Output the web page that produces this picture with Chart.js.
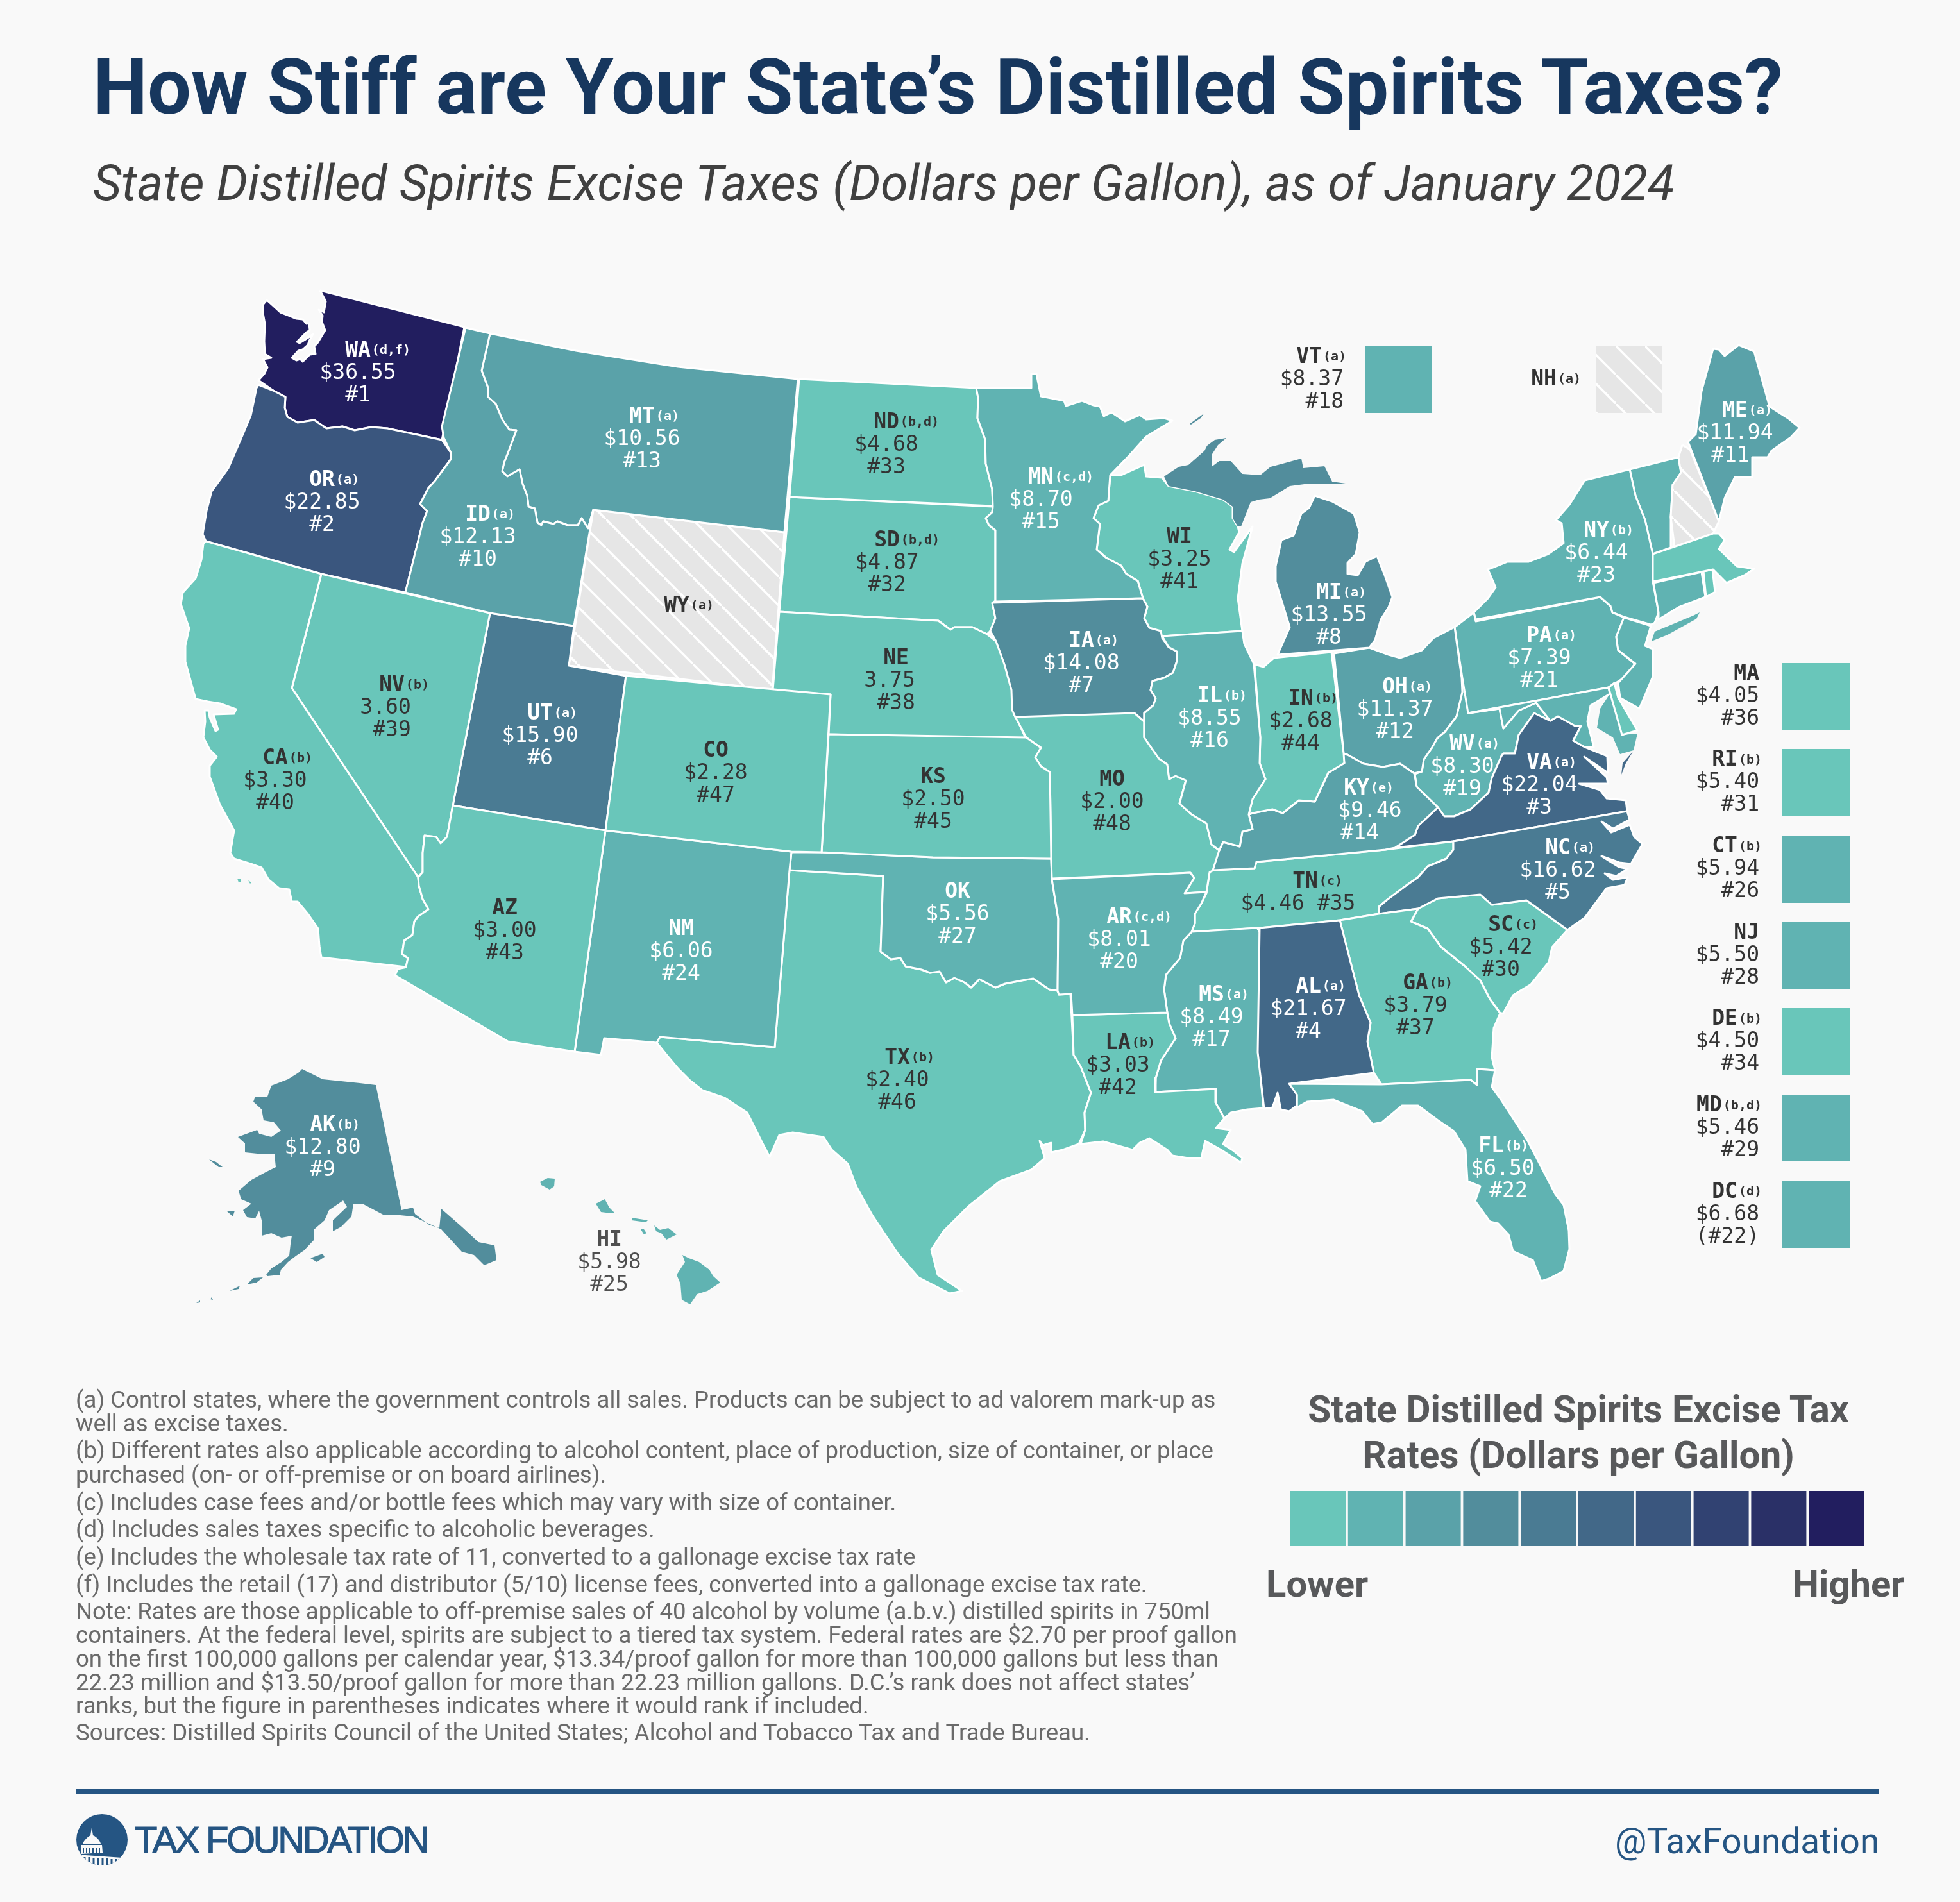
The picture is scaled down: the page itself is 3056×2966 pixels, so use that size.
<!DOCTYPE html>
<html>
<head>
<meta charset="utf-8">
<title>How Stiff are Your State's Distilled Spirits Taxes?</title>
<script src="https://cdn.jsdelivr.net/npm/chart.js@4/dist/chart.umd.min.js"></script>
<style>
    html, body { margin: 0; padding: 0; background: #f9f9f9; }
    #page { position: relative; width: 3056px; height: 2966px; overflow: hidden; background: #f9f9f9; }
    #mapChart { position: absolute; left: 0; top: 0; }
    .txt { position: absolute; white-space: nowrap; font-family: Roboto, sans-serif; }
</style>
</head>
<body>
<div id="page">
    <canvas id="mapChart" width="3056" height="2966"></canvas>
    <div id="texts"></div>
    <svg style="position:absolute;left:119px;top:2829px" width="80" height="80" viewBox="0 0 80 80">
        <defs><clipPath id="logoClip"><circle cx="40" cy="40" r="40"/></clipPath></defs>
        <g clip-path="url(#logoClip)">
            <rect width="80" height="80" fill="#255583"/>
            <path d="M24 21 L26 33 C33 36 37 42 38 46 L10 46 C12 41 17 36 22 33 Z" fill="#f9f9f9"/>
            <path d="M8 48 L40 48 L41 60 L8 62 Z" fill="#f9f9f9"/>
            <path d="M11 53 V61 M16 53 V61 M21 53 V61 M26 53 V61 M31 53 V61 M36 53 V60" stroke="#255583" stroke-width="2"/>
            <path d="M0 63 L72 68 L72 80 L0 80 Z" fill="#f9f9f9"/>
            <path d="M13 67 V80 M20 67 V80 M27 68 V80 M34 68 V80 M41 69 V80 M48 69 V80 M55 70 V80 M62 70 V80" stroke="#255583" stroke-width="3"/>
        </g>
    </svg>
</div>
<script>
// ============================================
// DATA
// ============================================
var stateCodes = ["AL","AK","AZ","AR","CA","CO","CT","DE","FL","GA","HI","ID","IL","IN","IA","KS","KY","LA","ME","MD","MA","MI","MN","MS","MO","MT","NE","NV","NH","NJ","NM","NY","NC","ND","OH","OK","OR","PA","RI","SC","SD","TN","TX","UT","VT","VA","WA","WV","WI","WY","DC"];
var stateRates = [21.67,12.80,3.00,8.01,3.30,2.28,5.94,4.50,6.50,3.79,5.98,12.13,8.55,2.68,14.08,2.50,9.46,3.03,11.94,5.46,4.05,13.55,8.70,8.49,2.00,10.56,3.75,3.60,null,5.50,6.06,6.44,16.62,4.68,11.37,5.56,22.85,7.39,5.40,5.42,4.87,4.46,2.40,15.90,8.37,22.04,36.55,8.30,3.25,null,6.68];
var stateRanks = ["#4","#9","#43","#20","#40","#47","#26","#34","#22","#37","#25","#10","#16","#44","#7","#45","#14","#42","#11","#29","#36","#8","#15","#17","#48","#13","#38","#39","","#28","#24","#23","#5","#33","#12","#27","#2","#21","#31","#30","#32","#35","#46","#6","#18","#3","#1","#19","#41","","(#22)"];
var stateNotes = ["(a)","(b)","","(c,d)","(b)","","(b)","(b)","(b)","(b)","","(a)","(b)","(b)","(a)","","(e)","(b)","(a)","(b,d)","","(a)","(c,d)","(a)","","(a)","","(b)","(a)","","","(b)","(a)","(b,d)","(a)","","(a)","(a)","(b)","(c)","(b,d)","(c)","(b)","(a)","(a)","(a)","(d,f)","(a)","","(a)","(d)"];
var noDollarStates = ["NE", "NV"];
var sideStates = ["MA", "RI", "CT", "NJ", "DE", "MD", "DC"];
var colorBreaks = [5.45, 9, 12.5, 15, 19, 22.5, 26, 30, 34];
var rampColors = ["#69c6ba", "#60b3b2", "#5aa2a9", "#528d9c", "#4a7b93", "#426888", "#3a567e", "#314272", "#2a3067", "#221e5f"];

// State outlines, flat x,y lists in map units
var stateShapes = {
    WA: [[499,453,724,510,689,686,604,668,579,666,553,671,534,665,509,668,490,655,464,659,448,650,444,636,445,619,426,609,403,593,412,583,417,573,410,560,423,558,413,552,412,532,413,505,410,488,410,475,416,468,425,476,437,487,450,492,462,497,472,498,478,505,482,504,483,515,478,518,463,533,467,535,480,527,488,521,482,532,480,538,472,545,465,547,455,558,462,562,468,560,472,564,483,553,492,552,490,540,495,535,507,515,502,502,503,492,497,483,505,487,508,470]],
    OR: [[403,600,426,609,445,619,444,636,448,650,464,659,490,655,509,668,534,665,553,671,579,666,604,668,689,686,692,690,703,706,703,716,678,750,668,761,655,786,666,797,659,815,632,924,501,895,321,844,316,833,322,797,330,766,356,730,378,679,391,648,400,605]],
    ID: [[726,511,764,520,751,578,761,605,761,619,773,630,783,654,794,670,805,671,792,706,786,721,783,735,791,743,810,732,815,755,822,773,824,790,834,793,838,815,844,819,847,813,863,817,869,813,885,819,901,819,907,808,917,824,925,795,895,976,764,956,632,924,659,815,666,797,655,786,668,761,678,750,703,716,703,706,692,683,689,665]],
    MT: [[764,520,898,547,1057,572,1244,591,1223,830,925,795,917,824,907,808,901,819,885,819,869,813,863,817,847,813,844,819,838,815,834,793,824,790,822,773,815,755,810,732,791,743,783,735,786,721,792,706,805,671,794,670,783,654,773,630,761,619,761,605,751,578]],
    WY: [[925,795,1223,830,1204,1076,887,1038]],
    ND: [[1246,591,1522,605,1525,620,1524,652,1536,685,1537,723,1547,763,1548,789,1231,775]],
    SD: [[1231,775,1548,790,1547,799,1537,808,1542,819,1552,827,1552,937,1547,940,1552,964,1544,984,1539,989,1516,978,1488,978,1482,982,1463,968,1215,954]],
    NE: [[1215,954,1463,968,1482,982,1488,978,1516,978,1539,989,1553,1000,1567,1036,1578,1076,1580,1109,1600,1153,1292,1145,1295,1083,1205,1076]],
    CO: [[976,1054,1295,1083,1281,1329,1234,1328,944,1295]],
    UT: [[764,956,895,976,887,1038,976,1054,944,1295,706,1256]],
    NV: [[501,895,764,956,706,1256,697,1305,687,1315,680,1305,662,1303,659,1330,659,1360,652,1368,455,1073]],
    CA: [[321,844,501,895,455,1073,652,1368,653,1381,659,1402,668,1418,652,1429,646,1437,643,1458,630,1467,627,1488,636,1494,633,1508,501,1493,498,1475,496,1448,480,1425,464,1406,455,1406,451,1387,435,1385,419,1372,408,1353,391,1347,365,1339,359,1330,365,1295,359,1284,343,1255,327,1211,327,1194,338,1180,327,1169,317,1150,320,1125,319,1108,325,1108,327,1119,336,1140,340,1138,333,1114,365,1113,368,1106,343,1097,324,1094,305,1090,289,1032,289,1007,295,980,282,942,285,924,305,902,314,873,317,848],
         [370,1370,376,1370,376,1376,372,1376],[387,1373,392,1376,390,1378]],
    AZ: [[706,1256,944,1295,896,1640,792,1624,616,1521,620,1511,630,1509,633,1508,636,1494,627,1488,630,1467,643,1458,646,1437,652,1429,668,1418,659,1402,653,1381,652,1368,659,1360,659,1330,662,1303,680,1305,687,1315,697,1305]],
    NM: [[944,1295,1234,1328,1231,1357,1208,1633,1029,1617,1024,1626,942,1619,937,1645,896,1640]],
    KS: [[1292,1145,1600,1150,1623,1166,1614,1181,1623,1195,1637,1204,1639,1339,1455,1337,1281,1329]],
    OK: [[1234,1329,1281,1329,1455,1337,1639,1339,1640,1371,1650,1433,1649,1545,1636,1543,1611,1526,1593,1529,1567,1534,1552,1540,1527,1527,1514,1540,1504,1532,1488,1525,1475,1532,1465,1515,1450,1517,1437,1512,1412,1507,1404,1494,1389,1496,1373,1484,1377,1366,1231,1357]],
    TX: [[1231,1357,1377,1366,1373,1484,1389,1496,1404,1494,1412,1507,1437,1512,1450,1517,1465,1515,1475,1532,1488,1525,1504,1532,1514,1540,1527,1527,1552,1540,1567,1534,1593,1529,1611,1526,1636,1543,1649,1545,1651,1551,1669,1550,1674,1645,1685,1663,1701,1704,1691,1735,1692,1762,1682,1784,1657,1793,1639,1797,1639,1782,1626,1786,1621,1779,1629,1806,1608,1824,1559,1842,1510,1881,1471,1920,1452,1949,1462,1988,1500,2013,1481,2017,1432,1992,1400,1955,1360,1895,1335,1850,1322,1815,1297,1793,1284,1773,1236,1766,1215,1770,1200,1804,1190,1785,1165,1735,1130,1712,1095,1700,1076,1685,1057,1666,1041,1647,1024,1626,1029,1617,1208,1633]],
    MN: [[1522,605,1608,605,1608,583,1616,583,1623,618,1639,621,1659,625,1662,633,1687,625,1705,632,1715,634,1721,649,1733,643,1754,657,1777,647,1787,654,1815,652,1828,656,1787,681,1761,710,1731,741,1728,781,1713,788,1705,808,1715,817,1710,857,1725,870,1748,882,1756,895,1774,906,1782,933,1552,938,1552,827,1542,819,1537,808,1547,799,1548,790,1547,763,1537,723,1536,685,1524,652,1525,620]],
    IA: [[1547,940,1782,933,1789,946,1784,964,1792,979,1810,984,1812,995,1822,1009,1835,1016,1835,1031,1829,1049,1815,1057,1797,1062,1794,1076,1802,1089,1798,1100,1784,1112,1784,1125,1769,1112,1583,1118,1578,1107,1577,1076,1566,1036,1553,1000,1544,984,1552,964]],
    MO: [[1580,1112,1769,1112,1784,1125,1784,1150,1807,1183,1820,1192,1823,1215,1833,1210,1849,1217,1839,1253,1858,1270,1881,1284,1889,1317,1901,1326,1907,1329,1901,1353,1886,1360,1881,1391,1847,1393,1862,1369,1856,1361,1640,1370,1639,1339,1637,1204,1623,1195,1614,1181,1623,1166,1600,1150]],
    WI: [[1731,741,1748,741,1784,725,1787,743,1812,745,1822,758,1863,766,1907,779,1922,790,1922,808,1930,821,1932,830,1917,857,1924,861,1953,821,1937,879,1930,933,1937,984,1812,992,1792,979,1784,964,1789,946,1782,933,1774,906,1756,895,1748,882,1725,870,1710,857,1715,817,1705,808,1713,788,1728,781]],
    IL: [[1812,992,1937,984,1940,1004,1953,1031,1955,1036,1965,1150,1964,1190,1973,1215,1953,1246,1947,1270,1953,1293,1937,1297,1933,1320,1907,1313,1901,1326,1889,1317,1881,1284,1858,1270,1839,1253,1849,1217,1833,1210,1823,1215,1820,1192,1807,1183,1784,1150,1784,1112,1798,1100,1802,1089,1794,1076,1797,1062,1815,1057,1829,1049,1835,1031,1835,1016,1822,1009]],
    IN: [[1956,1036,1970,1040,1986,1026,2076,1017,2095,1175,2096,1190,2071,1205,2050,1250,2025,1248,2000,1268,1984,1262,1953,1268,1947,1270,1953,1246,1973,1215,1964,1190,1965,1150]],
    OH: [[2080,1019,2135,1010,2165,1021,2183,1026,2217,1014,2235,995,2268,978,2279,1057,2280,1079,2271,1117,2253,1141,2241,1151,2232,1167,2220,1184,2217,1203,2205,1206,2183,1191,2156,1196,2126,1191,2101,1177,2095,1175]],
    MI: [[2135,1010,1992,1021,2011,978,1989,907,1989,883,1998,842,2017,835,2029,801,2041,792,2050,773,2077,782,2111,801,2120,830,2114,864,2101,878,2101,895,2117,897,2129,876,2147,867,2159,897,2171,931,2165,947,2153,966,2144,998],
         [1815,743,1838,728,1853,725,1878,703,1882,695,1894,686,1912,683,1899,694,1890,708,1889,728,1901,719,1919,719,1937,739,1965,741,1981,728,2000,723,2029,715,2032,730,2065,727,2077,751,2098,754,2041,754,2011,758,1980,777,1963,779,1950,783,1935,821,1930,821,1922,808,1922,790,1907,779,1863,766,1822,758],
         [1855,661,1877,645,1872,652,1857,662]],
    KY: [[1901,1326,1907,1313,1933,1320,1937,1297,1953,1293,1947,1270,1953,1268,1984,1262,2000,1268,2025,1248,2050,1250,2071,1205,2096,1190,2094,1176,2101,1177,2126,1191,2156,1196,2183,1191,2205,1206,2209,1227,2242,1259,2211,1288,2206,1302,2175,1322,2160,1325,2035,1337,1959,1344,1956,1354,1891,1357]],
    TN: [[1891,1357,1956,1354,1959,1344,2035,1337,2160,1325,2266,1312,2266,1325,2255,1339,2226,1351,2211,1368,2191,1382,2163,1403,2150,1414,2150,1425,2089,1435,1964,1447,1858,1453,1863,1440,1863,1425,1873,1409,1881,1393,1886,1360]],
    AR: [[1640,1371,1856,1361,1862,1369,1847,1393,1881,1391,1873,1409,1863,1425,1863,1440,1858,1453,1845,1467,1840,1494,1818,1520,1815,1543,1820,1579,1672,1583,1670,1550,1651,1551,1649,1545,1650,1433]],
    LA: [[1672,1583,1820,1579,1823,1596,1833,1619,1810,1654,1802,1681,1801,1703,1896,1698,1895,1719,1909,1744,1896,1759,1919,1762,1907,1784,1924,1795,1937,1806,1935,1813,1904,1793,1879,1779,1873,1806,1853,1806,1828,1802,1820,1793,1792,1775,1777,1782,1766,1793,1720,1780,1685,1784,1692,1762,1691,1735,1701,1704,1685,1663,1674,1645]],
    MS: [[1858,1453,1960,1447,1964,1453,1962,1641,1970,1728,1945,1730,1919,1735,1909,1744,1895,1719,1896,1698,1801,1703,1802,1681,1810,1654,1833,1619,1823,1596,1820,1579,1815,1543,1818,1520,1840,1494,1845,1467]],
    AL: [[1964,1447,2089,1435,2119,1552,2137,1595,2132,1624,2142,1673,2010,1690,2022,1707,2022,1724,2010,1733,1997,1730,1992,1704,1984,1727,1971,1729,1961,1641]],
    GA: [[2089,1435,2150,1425,2211,1417,2200,1437,2226,1448,2247,1477,2283,1506,2308,1529,2323,1558,2339,1580,2329,1603,2326,1649,2331,1669,2303,1667,2303,1692,2293,1684,2154,1691,2142,1673,2132,1624,2137,1595,2119,1552]],
    SC: [[2211,1417,2242,1401,2308,1395,2326,1411,2380,1404,2444,1450,2420,1477,2415,1500,2387,1535,2359,1552,2344,1580,2339,1580,2323,1558,2308,1529,2283,1506,2247,1477,2226,1448,2200,1437]],
    NC: [[2266,1312,2537,1265,2541,1278,2515,1292,2497,1281,2512,1298,2541,1286,2548,1305,2561,1316,2543,1347,2525,1345,2497,1335,2524,1352,2538,1355,2520,1366,2502,1362,2515,1372,2538,1368,2533,1380,2505,1385,2471,1431,2444,1450,2380,1404,2326,1411,2308,1395,2242,1401,2211,1417,2150,1425,2150,1414,2163,1403,2191,1382,2211,1368,2226,1351,2255,1339,2266,1325]],
    VA: [[2175,1322,2206,1302,2211,1288,2242,1259,2252,1273,2267,1273,2293,1262,2321,1236,2326,1213,2341,1179,2344,1175,2362,1175,2368,1146,2392,1112,2417,1124,2429,1117,2456,1132,2465,1132,2453,1155,2471,1165,2506,1179,2507,1205,2470,1180,2505,1212,2507,1222,2462,1222,2495,1232,2505,1245,2535,1248,2537,1265,2266,1312],
         [2546,1172,2535,1190,2528,1208,2530,1190]],
    WV: [[2280,1057,2291,1112,2338,1105,2344,1136,2368,1108,2395,1096,2417,1124,2392,1112,2368,1146,2362,1175,2344,1175,2341,1179,2326,1213,2321,1236,2293,1262,2267,1273,2252,1273,2242,1259,2209,1227,2206,1207,2217,1203,2220,1184,2232,1167,2241,1151,2253,1141,2271,1117,2280,1079]],
    PA: [[2268,978,2298,955,2301,969,2495,931,2511,945,2514,955,2532,963,2520,993,2523,1014,2549,1035,2535,1055,2508,1072,2289,1112,2280,1057]],
    NY: [[2301,966,2298,955,2320,933,2332,916,2320,888,2350,876,2383,876,2414,864,2438,847,2435,816,2426,811,2447,787,2471,749,2541,732,2550,773,2565,811,2577,864,2577,907,2586,955,2580,971,2574,974,2532,962,2514,955,2511,945,2495,931],
         [2575,1000,2580,985,2640,960,2650,955,2645,965,2600,990]],
    VT: [[2541,732,2617,713,2621,737,2608,756,2605,806,2605,854,2577,864,2565,811,2550,773]],
    NH: [[2623,694,2635,701,2680,813,2671,832,2644,847,2611,854,2605,806,2608,756,2621,737,2617,713]],
    ME: [[2632,689,2644,677,2653,610,2671,544,2680,545,2689,555,2711,538,2735,548,2759,634,2789,653,2806,667,2792,682,2762,703,2756,713,2732,713,2732,744,2705,744,2689,777,2680,813]],
    MA: [[2577,864,2671,832,2680,832,2689,842,2680,856,2708,883,2735,887,2720,897,2692,909,2671,888,2577,907]],
    CT: [[2578,909,2653,892,2659,931,2617,947,2586,966,2586,955]],
    RI: [[2656,891,2670,888,2674,923,2660,931]],
    NJ: [[2532,963,2574,976,2565,1007,2577,1012,2577,1055,2565,1084,2556,1105,2526,1088,2523,1065,2550,1035,2523,1014,2520,993]],
    DE: [[2508,1072,2517,1065,2523,1088,2553,1139,2529,1146]],
    MD: [[2289,1112,2508,1072,2510,1082,2480,1100,2475,1125,2485,1165,2471,1165,2453,1155,2465,1132,2456,1132,2429,1117,2417,1124,2395,1096,2368,1108,2344,1136,2338,1105],
         [2510,1082,2529,1146,2553,1144,2547,1170,2526,1176,2515,1150,2490,1135,2495,1105]],
    FL: [[2010,1690,2154,1691,2293,1684,2303,1692,2303,1667,2331,1669,2326,1695,2339,1713,2382,1779,2425,1862,2438,1879,2446,1919,2447,1948,2438,1982,2415,1994,2403,1998,2390,1965,2359,1951,2352,1925,2336,1908,2323,1905,2300,1873,2308,1850,2288,1842,2285,1793,2267,1764,2242,1747,2211,1724,2186,1724,2155,1750,2140,1753,2124,1733,2079,1715,2038,1718,2022,1727,2022,1707]],
    AK: [[471,1667,503,1683,561,1689,586,1692,626,1887,644,1883,647,1893,669,1910,685,1915,688,1885,720,1913,746,1937,771,1942,774,1965,755,1973,739,1957,720,1952,688,1917,644,1897,624,1895,599,1895,567,1878,551,1877,548,1897,532,1913,519,1920,519,1903,541,1882,535,1872,513,1887,506,1903,490,1917,490,1933,474,1950,462,1958,449,1968,438,1980,436,1988,417,1990,415,1988,423,1978,439,1968,451,1958,453,1940,455,1927,439,1930,423,1923,408,1927,408,1903,404,1888,398,1900,385,1898,379,1887,392,1877,376,1870,372,1857,392,1840,414,1828,430,1820,428,1800,411,1800,382,1797,382,1783,371,1773,401,1762,404,1768,423,1773,438,1763,427,1750,411,1747,408,1730,395,1718,398,1710,417,1710,423,1693,449,1683,465,1673],
         [385,2003,395,1993,410,1992,400,2000],[358,2013,374,2005,372,2010],
         [484,1962,503,1955,506,1960,494,1968],[326,1808,337,1812,347,1820,341,1820],[353,1888,366,1888,363,1897],[306,2032,312,2028,312,2031],[330,2023,332,2027,328,2026]],
    HI: [[842,1843,854,1837,865,1838,864,1850,857,1855,844,1848],[929,1877,943,1870,950,1883,959,1892,953,1892,937,1890],[985,1899,1010,1903,1007,1906,985,1903],[999,1917,1004,1917,1008,1923,1004,1925],[1020,1911,1029,1918,1042,1915,1055,1925,1039,1933,1031,1923,1023,1920],[1064,1957,1074,1962,1090,1968,1106,1980,1112,1990,1123,2000,1103,2013,1087,2018,1076,2034,1063,2027,1061,2002,1055,1988,1068,1968]]
};

// ===== LABEL PLACES: x, y of the value line, then value and rank nudges =====
var labelPlaces = {
    WA:[558,579], OR:[502,781], MT:[1001,682], ID:[745,835], WY:[1055,942], NV:[611,1101], UT:[842,1145],
    CA:[429,1215], CO:[1116,1203], AZ:[787,1449], NM:[1062,1481], ND:[1382,691], SD:[1383,875], NE:[1397,1059],
    MN:[1623,777], WI:[1839,870], IA:[1686,1032], IL:[1886,1118], KS:[1455,1244], MO:[1734,1248], OK:[1493,1423],
    AR:[1745,1463], TX:[1399,1682], LA:[1743,1659], MS:[1889,1584], KY:[2115,1262,21,5], TN:[2035,1407,-11,0],
    AL:[2040,1571], GA:[2207,1566], SC:[2340,1475], NC:[2429,1355], VA:[2400,1222], WV:[2280,1193], FL:[2325,1820,18,27],
    ME:[2705,673,0,-7], NY:[2489,860], PA:[2400,1024], MI:[2072,957], OH:[2175,1104], IN:[2028,1122], AK:[503,1787], HI:[950,1966]
};
var sideTop = 1083, sideStep = 134.7, sideRight = 2743;
var swatchBoxes = {
    VT:[2129,540,2233,644], NH:[2488,540,2592,644],
    MA:[2779,1034,2884,1138], RI:[2779,1168,2884,1273], CT:[2779,1303,2884,1408], NJ:[2779,1437,2884,1542],
    DE:[2779,1572,2884,1677], MD:[2779,1707,2884,1811], DC:[2779,1841,2884,1946]
};

// ===== PAGE TEXT =====
var noteLines = [
    "(a) Control states, where the government controls all sales. Products can be subject to ad valorem mark-up as",
    "well as excise taxes.",
    "(b) Different rates also applicable according to alcohol content, place of production, size of container, or place",
    "purchased (on- or off-premise or on board airlines).",
    "(c) Includes case fees and/or bottle fees which may vary with size of container.",
    "(d) Includes sales taxes specific to alcoholic beverages.",
    "(e) Includes the wholesale tax rate of 11, converted to a gallonage excise tax rate",
    "(f) Includes the retail (17) and distributor (5/10) license fees, converted into a gallonage excise tax rate.",
    "Note: Rates are those applicable to off-premise sales of 40 alcohol by volume (a.b.v.) distilled spirits in 750ml",
    "containers. At the federal level, spirits are subject to a tiered tax system. Federal rates are $2.70 per proof gallon",
    "on the first 100,000 gallons per calendar year, $13.34/proof gallon for more than 100,000 gallons but less than",
    "22.23 million and $13.50/proof gallon for more than 22.23 million gallons. D.C.\u2019s rank does not affect states\u2019",
    "ranks, but the figure in parentheses indicates where it would rank if included.",
    "Sources: Distilled Spirits Council of the United States; Alcohol and Tobacco Tax and Trade Bureau."
];
var noteCenters = [2183, 2220, 2262, 2300, 2343, 2385, 2428, 2471, 2513, 2550, 2587, 2624, 2660, 2702];

function addText(text, x, y, size, weight, color, extra) {
    var el = document.createElement("div");
    el.className = "txt";
    el.textContent = text;
    el.style.left = x + "px";
    el.style.top = (y - size * 0.6) + "px";
    el.style.lineHeight = (size * 1.2) + "px";
    el.style.fontSize = size + "px";
    el.style.fontWeight = weight;
    el.style.color = color;
    if (extra) {
        for (var k in extra) { el.style[k] = extra[k]; }
    }
    document.getElementById("texts").appendChild(el);
}

addText("How Stiff are Your State\u2019s Distilled Spirits Taxes?", 145, 136, 120.5, 700, "#17375e");
addText("State Distilled Spirits Excise Taxes (Dollars per Gallon), as of January 2024", 145, 286, 77, 400, "#404040", { fontStyle: "italic" });
for (var n = 0; n < noteLines.length; n++) {
    addText(noteLines[n], 118, noteCenters[n], 36.6, 400, "#6a6a6a");
}
addText("State Distilled Spirits Excise Tax", 2461, 2198, 58.5, 700, "#58595b", { transform: "translateX(-50%)" });
addText("Rates (Dollars per Gallon)", 2461, 2269, 58.5, 700, "#58595b", { transform: "translateX(-50%)" });
addText("Lower", 1974, 2471, 58, 700, "#58595b");
addText("Higher", 2795, 2471, 58, 700, "#58595b");
addText("TAX FOUNDATION", 210, 2869, 58, 400, "#255583", { fontFamily: "'Liberation Sans', Arial, sans-serif", letterSpacing: "-3.4px", webkitTextStroke: "1.2px #255583" });
addText("@TaxFoundation", 2518, 2871, 55, 400, "#255583");

// ============================================
// HELPERS
// ============================================
function rateOf(code) {
    return stateRates[stateCodes.indexOf(code)];
}

function colorFor(rate) {
    var bin = 0;
    while (bin < colorBreaks.length && rate > colorBreaks[bin]) { bin++; }
    return rampColors[bin];
}

function makeHatch() {
    var tile = document.createElement("canvas");
    tile.width = 45;
    tile.height = 45;
    var c = tile.getContext("2d");
    c.fillStyle = "#e6e6e6";
    c.fillRect(0, 0, 45, 45);
    c.strokeStyle = "#ffffff";
    c.lineWidth = 3.5;
    c.beginPath();
    c.moveTo(-5, -5); c.lineTo(50, 50);
    c.stroke();
    return c.createPattern(tile, "repeat");
}

function toPoints(ring) {
    var pts = [];
    for (var i = 0; i < ring.length; i += 2) {
        pts.push({ x: ring[i], y: ring[i + 1] });
    }
    pts.push({ x: ring[0], y: ring[1] });
    return pts;
}

function shapeDataset(ring, fillColor, borderWidth) {
    return {
        data: toPoints(ring),
        showLine: true,
        fill: "shape",
        backgroundColor: fillColor,
        borderColor: "#ffffff",
        borderWidth: borderWidth,
        borderJoinStyle: "round",
        pointRadius: 0,
        tension: 0
    };
}

// ============================================
// DATASETS
// ============================================
var hatch = makeHatch();
var datasets = [];

stateCodes.forEach(function(code) {
    var rate = rateOf(code);
    var fillColor = rate === null ? hatch : colorFor(rate);
    var rings = stateShapes[code] || [];
    rings.forEach(function(ring, r) {
        var noBorder = r > 0 || code === "AK" || code === "HI";
        datasets.push(shapeDataset(ring, fillColor, noBorder ? 0 : 3));
    });
    var box = swatchBoxes[code];
    if (box) {
        datasets.push(shapeDataset([box[0], box[1], box[2], box[1], box[2], box[3], box[0], box[3]], fillColor, 0));
    }
});

// colour ramp under the legend title
rampColors.forEach(function(color, i) {
    var left = 2012 + i * 89.8;
    datasets.push(shapeDataset([left, 2325, left + 86, 2325, left + 86, 2411, left, 2411], color, 0));
});

// ============================================
// STATE LABELS
// ============================================
var MONO = "'DejaVu Sans Mono', 'Liberation Mono', monospace";
var BIG = 33, SMALL = 20, LINE = 35;
var BIG_W = BIG * 0.602, SMALL_W = SMALL * 0.602;

function valueText(code) {
    var rate = rateOf(code);
    if (rate === null) return "";
    if (noDollarStates.indexOf(code) >= 0) return rate.toFixed(2) + " ";
    return "$" + rate.toFixed(2);
}

function drawLine(ctx, text, left, y, bold, size) {
    ctx.font = (bold ? "bold " : "") + size + "px " + MONO;
    ctx.fillText(text, left, y + 3);
}

function drawCentered(ctx, code, note, value, rank, place, x, y) {
    var dv = place[2] || 0, dr = place[3] || 0;
    var lineY = value ? y - LINE : y;
    drawLine(ctx, code, x - BIG_W, lineY, true, BIG);
    if (note) { drawLine(ctx, note, x + BIG_W + 2, lineY, true, SMALL); }
    if (value) {
        if (code === "TN") {
            value = value + " " + rank;
            rank = "";
        }
        drawLine(ctx, value, x + dv - value.length * BIG_W / 2, y, false, BIG);
    }
    if (rank) {
        drawLine(ctx, rank, x + dr - rank.length * BIG_W / 2, y + LINE, false, BIG);
    }
}

function drawRight(ctx, code, note, value, rank, right, y) {
    var codeW = code.length * BIG_W + (note ? note.length * SMALL_W + 2 : 0);
    var extra = note ? 4 : 0;
    var lineY = value ? y - LINE : y;
    drawLine(ctx, code, right + extra - codeW, lineY, true, BIG);
    if (note) { drawLine(ctx, note, right + extra - note.length * SMALL_W, lineY, true, SMALL); }
    if (value) {
        drawLine(ctx, value, right - value.length * BIG_W, y, false, BIG);
        drawLine(ctx, rank, right - rank.length * BIG_W, y + LINE, false, BIG);
    }
}

var stateLabelPlugin = {
    id: "stateLabels",
    afterDatasetsDraw: function(chart) {
        var ctx = chart.ctx;
        var xs = chart.scales.x, ys = chart.scales.y;
        ctx.save();
        ctx.textBaseline = "middle";
        ctx.textAlign = "left";
        stateCodes.forEach(function(code, i) {
            var value = valueText(code);
            var rank = stateRanks[i], note = stateNotes[i];
            var side = sideStates.indexOf(code);
            if (side >= 0) {
                ctx.fillStyle = "#333333";
                drawRight(ctx, code, note, value, rank, xs.getPixelForValue(sideRight), ys.getPixelForValue(sideTop + side * sideStep));
            } else if (code === "VT" || code === "NH") {
                ctx.fillStyle = "#333333";
                drawRight(ctx, code, note, value, rank, xs.getPixelForValue(code === "VT" ? 2095 : 2461), ys.getPixelForValue(589));
            } else {
                var place = labelPlaces[code];
                var rate = stateRates[i];
                var dark = rate === null || rate <= colorBreaks[0];
                ctx.fillStyle = code === "HI" ? "#4f4f4f" : (dark ? "#333333" : "#ffffff");
                drawCentered(ctx, code, note, value, rank, place, xs.getPixelForValue(place[0]), ys.getPixelForValue(place[1]));
            }
        });
        ctx.restore();
    }
};

// ============================================
// CHART
// ============================================
new Chart(document.getElementById("mapChart"), {
    type: "scatter",
    data: { datasets: datasets },
    plugins: [stateLabelPlugin],
    options: {
        responsive: false,
        animation: false,
        devicePixelRatio: 1,
        events: [],
        layout: { padding: 0 },
        plugins: { legend: { display: false }, tooltip: { enabled: false } },
        scales: {
            x: { type: "linear", min: 0, max: 3056, display: false },
            y: { type: "linear", min: 0, max: 2966, reverse: true, display: false }
        }
    }
});

// footer rule
var rule = document.createElement("div");
rule.style.cssText = "position:absolute;left:119px;top:2790px;width:2810px;height:8px;background:#255583";
document.getElementById("texts").appendChild(rule);
</script>
</body>
</html>
